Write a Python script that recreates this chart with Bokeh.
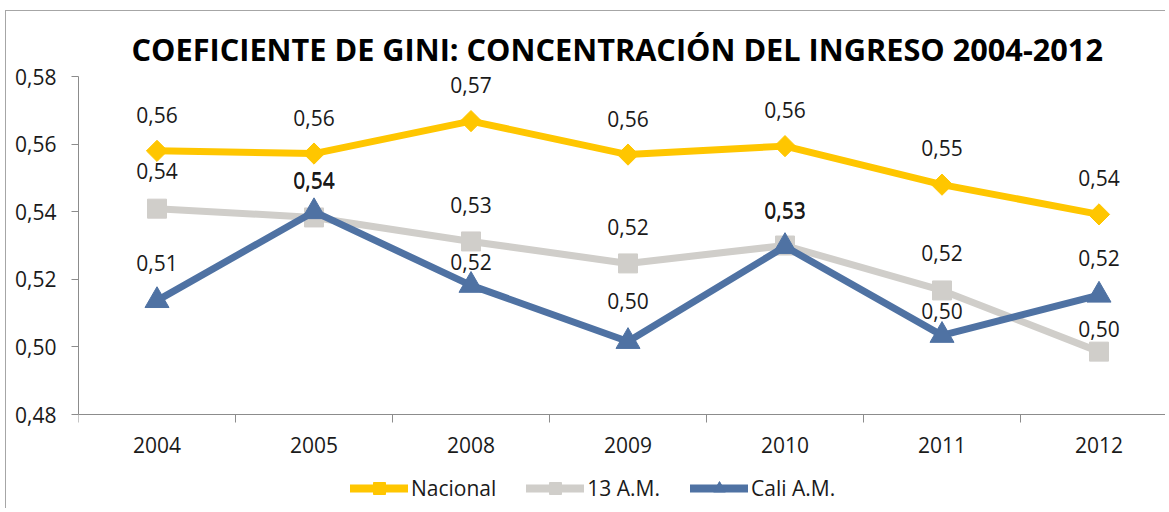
import math
from bokeh.plotting import figure
from bokeh.models import (Range1d, FixedTicker, CustomJSTickFormatter, Legend,
                          LegendItem, ColumnDataSource, LabelSet)
from bokeh.embed import file_html
from bokeh.resources import INLINE
from bokeh.core.properties import value

# ---- data ----
years = ["2004", "2005", "2008", "2009", "2010", "2011", "2012"]
nacional = [0.5580, 0.5572, 0.5668, 0.5569, 0.5594, 0.5480, 0.5392]
am13 = [0.5409, 0.5383, 0.5312, 0.5247, 0.5300, 0.5167, 0.4986]
cali = [0.5137, 0.5400, 0.5182, 0.5016, 0.5297, 0.5034, 0.5153]
series_names = ["Nacional", "13 A.M.", "Cali A.M."]
y_ticks = [0.48, 0.50, 0.52, 0.54, 0.56, 0.58]
title_text = "COEFICIENTE DE GINI: CONCENTRACIÓN DEL INGRESO 2004-2012"

# ---- styles ----
colors = ["#FFC600", "#D0CECA", "#4F72A3"]
markers = ["square", "square", "triangle"]
angles = [math.pi / 4, 0, 0]
sizes = [15, 19, 24]
legend_sizes = [10, 14, 14]
# label distance above each point (pixels), per series
label_offsets = [
    [36, 36, 36, 36, 36, 37, 36],
    [38, 37, 36, 36, 36, 37, 23],
    [38, 31, 23, 40, 36, 24, 37],
]

FONT = "Open Sans"
TXT = "#1a1a1a"
AX = "#8c8c8c"
FS = "21px"

# ---- layout (pixels) ----
W, H = 1160, 498
left, top = 72, 65
plot_h = H - top                 # frame runs to the canvas bottom
axis_px_from_top = 338           # distance from top tick to bottom tick
n = len(years)
cat_w = 157.0
x_end = (W - left) / cat_w
y_lo, y_hi = y_ticks[0], y_ticks[-1]
px_per_unit = axis_px_from_top / (y_hi - y_lo)
y_start = y_lo - (plot_h - axis_px_from_top) / px_per_unit

p = figure(width=W, height=H, output_backend="svg", toolbar_location=None,
           x_range=Range1d(0, x_end), y_range=Range1d(y_start, y_hi),
           min_border_left=left, min_border_right=0, min_border_top=top,
           min_border_bottom=0)
p.styles = {"border-top": "1px solid #a6a6a6", "border-left": "1px solid #a6a6a6",
            "margin-left": "5px", "margin-top": "10px"}
p.outline_line_color = None
p.xgrid.visible = False
p.ygrid.visible = False
p.background_fill_color = "white"
p.border_fill_color = "white"

p.title.text = title_text
p.title.text_font = FONT
p.title.text_font_style = "bold"
p.title.text_font_size = "30.7px"
p.title.text_color = "#000000"
p.title.align = "left"
p.title.offset = 53
p.title.standoff = 13

# axes
xs = [i + 0.5 for i in range(n)]
xa = p.xaxis[0]
xa.fixed_location = y_lo
xa.ticker = FixedTicker(ticks=xs, minor_ticks=list(range(n + 1)))
xa.formatter = CustomJSTickFormatter(args=dict(years=years),
                                     code="return years[Math.round(tick - 0.5)] || '';")
xa.major_tick_out = 0
xa.major_tick_in = 0
xa.minor_tick_out = 8
xa.minor_tick_in = 0
xa.minor_tick_line_color = AX
xa.axis_line_color = AX
xa.major_label_standoff = 14

ya = p.yaxis[0]
ya.bounds = (y_lo, y_hi)
ya.ticker = FixedTicker(ticks=y_ticks)
ya.formatter = CustomJSTickFormatter(code="return tick.toFixed(2).replace('.', ',');")
ya.major_tick_out = 7
ya.major_tick_in = 0
ya.minor_tick_out = 0
ya.minor_tick_in = 0
ya.major_tick_line_color = AX
ya.axis_line_color = AX
ya.major_label_standoff = 15

for ax in (xa, ya):
    ax.major_label_text_font = FONT
    ax.major_label_text_font_size = FS
    ax.major_label_text_color = TXT

# series
all_series = [nacional, am13, cali]
items = []
lab_x, lab_y, lab_t, lab_o = [], [], [], []
off_x = [-5.0]          # legend proxies sit outside the visible x range
for name, vals, c, m, a, s, ls, offs in zip(series_names, all_series, colors, markers,
                                            angles, sizes, legend_sizes, label_offsets):
    p.line(xs, vals, line_width=7, line_color=c, line_join="round")
    p.scatter(xs, vals, marker=m, size=s, angle=a, fill_color=c, line_color=c)
    rl = p.line(off_x, vals[:1], line_width=8, line_color=c, line_cap="round")
    rs = p.scatter(off_x, vals[:1], marker=m, size=ls, angle=a, fill_color=c, line_color=c)
    items.append(LegendItem(label=name, renderers=[rl, rs]))
    for x, v, o in zip(xs, vals, offs):
        lab_x.append(x)
        lab_y.append(v)
        lab_t.append(f"{v:.2f}".replace(".", ","))
        lab_o.append(o)

src = ColumnDataSource(dict(x=lab_x, y=lab_y, t=lab_t, o=lab_o))
labels = LabelSet(x="x", y="y", text="t", source=src, y_offset="o",
                  text_align="center", text_baseline="middle",
                  text_font=value(FONT), text_font_size=FS, text_color=TXT)
p.add_layout(labels)

legend = Legend(items=items, orientation="horizontal", location=(272, 6),
                glyph_width=58, glyph_height=30, label_standoff=3, spacing=30,
                padding=0, margin=0, border_line_color=None,
                background_fill_alpha=0, label_text_font=FONT,
                label_text_font_size=FS, label_text_color=TXT)
p.add_layout(legend)

open("out.html", "w").write(file_html(p, INLINE))
